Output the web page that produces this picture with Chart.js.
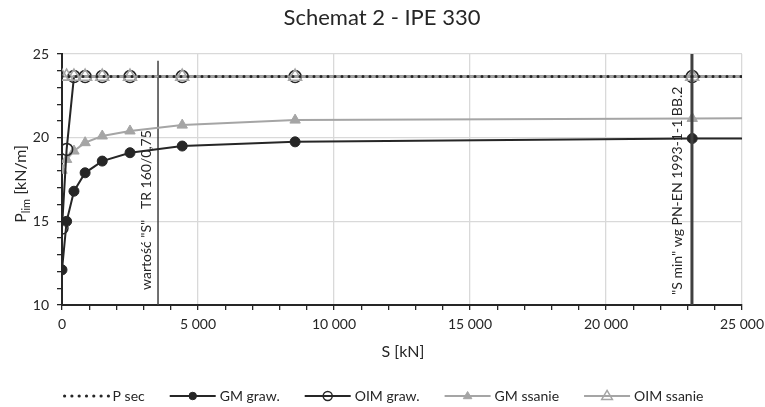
<!DOCTYPE html>
<html>
<head>
<meta charset="utf-8">
<script src="https://cdn.jsdelivr.net/npm/chart.js@4/dist/chart.umd.min.js"></script>
<style>
  html, body { margin: 0; padding: 0; background: #fff; }
  #wrap { width: 765px; height: 407px; }
</style>
</head>
<body>
<div id="wrap"><canvas id="chart" width="765" height="407"></canvas></div>
<script>
// values
const sValues = [0, 170, 440, 850, 1480, 2500, 4420, 8570, 23170, 40000];
const gmGraw = [12.1, 15.0, 16.8, 17.9, 18.6, 19.1, 19.5, 19.75, 19.95, 20.0];
const oimGraw = [14.6, 19.3, 23.65, 23.65, 23.65, 23.65, 23.65, 23.65, 23.65, 23.65];
const gmSsanie = [18.05, 18.7, 19.2, 19.7, 20.1, 20.4, 20.75, 21.05, 21.15, 21.25];
const oimSsanie = [23.65, 23.65, 23.65, 23.65, 23.65, 23.65, 23.65, 23.65, 23.65, 23.65];
const pSecS = [0, 25000];
const pSec = [23.65, 23.65];

const sTr = 3530;          // wartość "S" TR 160/0,75
const sTrRange = [10, 24.6];
const sMin = 23160;        // "S min" wg PN-EN 1993-1-1 BB.2
const sMinRange = [10, 25];

const xTicks = [0, 5000, 10000, 15000, 20000, 25000];
const yTicks = [10, 15, 20, 25];

const labels = ['P sec', 'GM graw.', 'OIM graw.', 'GM ssanie', 'OIM ssanie'];

const DARK = '#262626';
const GRAY = '#a5a5a5';
const FONT = 'Lato, "Open Sans", sans-serif';

const pts = (xs, ys) => xs.map((x, i) => ({ x: x, y: ys[i] }));
const fmt = v => String(v).replace(/\B(?=(\d{3})+(?!\d))/g, ' ');

function marker(ctx, style, x, y, r, fill, stroke, lw) {
  ctx.save();
  ctx.beginPath();
  if (style === 'triangle') {
    ctx.moveTo(x, y - r);
    ctx.lineTo(x + r * 0.95, y + r * 0.6);
    ctx.lineTo(x - r * 0.95, y + r * 0.6);
    ctx.closePath();
  } else {
    ctx.arc(x, y, r, 0, Math.PI * 2);
  }
  if (fill) { ctx.fillStyle = fill; ctx.fill(); }
  if (stroke) { ctx.strokeStyle = stroke; ctx.lineWidth = lw; ctx.stroke(); }
  ctx.restore();
}

const extras = {
  id: 'extras',
  afterDraw(chart) {
    const ctx = chart.ctx;
    const xs = chart.scales.x, ys = chart.scales.y;
    ctx.save();
    ctx.fillStyle = DARK;
    ctx.textBaseline = 'middle';

    // title
    ctx.textAlign = 'center';
    ctx.font = '22px ' + FONT;
    ctx.fillText('Schemat 2 - IPE 330', 382, 18);

    // x title
    ctx.font = '16px ' + FONT;
    ctx.fillText('S [kN]', 403, 352);

    // y title with subscript
    ctx.save();
    ctx.translate(20, 184);
    ctx.rotate(-Math.PI / 2);
    ctx.textAlign = 'left';
    ctx.textBaseline = 'alphabetic';
    const big = '16px ' + FONT, small = '11px ' + FONT;
    ctx.font = big; const wP = ctx.measureText('P').width;
    ctx.font = small; const wL = ctx.measureText('lim').width;
    ctx.font = big; const wR = ctx.measureText(' [kN/m]').width;
    let tx = -(wP + wL + wR) / 2;
    ctx.font = big; ctx.fillText('P', tx, 6); tx += wP;
    ctx.font = small; ctx.fillText('lim', tx, 10); tx += wL;
    ctx.font = big; ctx.fillText(' [kN/m]', tx, 6);
    ctx.restore();

    // reference line texts
    ctx.font = '14px ' + FONT;
    ctx.textAlign = 'left';
    ctx.textBaseline = 'alphabetic';
    ctx.save();
    ctx.translate(xs.getPixelForValue(sTr) - 7, ys.getPixelForValue(10.9));
    ctx.rotate(-Math.PI / 2);
    ctx.fillText('wartość "S"   TR 160/0,75', 0, 0);
    ctx.restore();
    ctx.save();
    ctx.translate(xs.getPixelForValue(sMin) - 10, ys.getPixelForValue(10.6));
    ctx.rotate(-Math.PI / 2);
    ctx.fillText('"S min" wg PN-EN 1993-1-1 BB.2', 0, 0);
    ctx.restore();

    // legend
    ctx.font = '14px ' + FONT;
    ctx.textBaseline = 'middle';
    const sets = chart.data.datasets.slice(0, 5);
    const lineLen = 46, gapText = 4, gapItem = 25;
    let total = 0;
    sets.forEach(d => { total += lineLen + gapText + ctx.measureText(d.label).width + gapItem; });
    total -= gapItem;
    let lx = 383 - total / 2;
    const ly = 396;
    sets.forEach(d => {
      ctx.save();
      if (d.label === 'P sec') {
        for (let k = 0; k < 7; k++) marker(ctx, 'circle', lx + 2 + k * 7.3, ly, 1.6, DARK);
      } else {
        ctx.strokeStyle = d.borderColor;
        ctx.lineWidth = d.borderWidth;
        ctx.beginPath();
        ctx.moveTo(lx, ly);
        ctx.lineTo(lx + lineLen, ly);
        ctx.stroke();
        const r = d.pointRadius * 0.75;
        marker(ctx, d.pointStyle, lx + lineLen / 2, ly, r,
          d.pointBackgroundColor === 'transparent' ? null : d.pointBackgroundColor,
          d.pointBorderColor, d.pointBorderWidth);
      }
      ctx.restore();
      ctx.fillStyle = DARK;
      ctx.textAlign = 'left';
      ctx.fillText(d.label, lx + lineLen + gapText, ly);
      lx += lineLen + gapText + ctx.measureText(d.label).width + gapItem;
    });
    ctx.restore();
  }
};

new Chart(document.getElementById('chart'), {
  type: 'line',
  data: {
    datasets: [
      {
        label: labels[0],
        data: pts(pSecS, pSec),
        borderColor: DARK,
        borderWidth: 3,
        borderDash: [0, 7],
        borderCapStyle: 'round',
        pointRadius: 0,
        order: 0
      },
      {
        label: labels[1],
        data: pts(sValues, gmGraw),
        borderColor: DARK,
        borderWidth: 2,
        pointStyle: 'circle',
        pointRadius: 5,
        pointBackgroundColor: DARK,
        pointBorderColor: DARK,
        pointBorderWidth: 1,
        order: 3
      },
      {
        label: labels[2],
        data: pts(sValues, oimGraw),
        borderColor: DARK,
        borderWidth: 2,
        pointStyle: 'circle',
        pointRadius: 6,
        pointBackgroundColor: 'transparent',
        pointBorderColor: DARK,
        pointBorderWidth: 1.5,
        order: 4
      },
      {
        label: labels[3],
        data: pts(sValues, gmSsanie),
        borderColor: GRAY,
        borderWidth: 2,
        pointStyle: 'triangle',
        pointRadius: 6,
        pointBackgroundColor: GRAY,
        pointBorderColor: GRAY,
        pointBorderWidth: 1,
        order: 5
      },
      {
        label: labels[4],
        data: pts(sValues, oimSsanie),
        borderColor: GRAY,
        borderWidth: 2,
        pointStyle: 'triangle',
        pointRadius: 7.5,
        pointBackgroundColor: 'transparent',
        pointBorderColor: GRAY,
        pointBorderWidth: 1.5,
        order: 2
      },
      {
        label: 'TR',
        data: pts([sTr, sTr], sTrRange),
        borderColor: '#404040',
        borderWidth: 1.5,
        pointRadius: 0,
        order: 6
      },
      {
        label: 'Smin',
        data: pts([sMin, sMin], sMinRange),
        borderColor: '#404040',
        borderWidth: 3,
        pointRadius: 0,
        order: 1
      }
    ]
  },
  options: {
    responsive: false,
    animation: false,
    layout: { padding: { top: 54, right: 23, left: 0, bottom: 0 } },
    plugins: {
      legend: { display: false },
      tooltip: { enabled: false },
      title: { display: false }
    },
    scales: {
      x: {
        type: 'linear',
        min: 0,
        max: 25000,
        afterFit: s => { s.height = 102; s.paddingRight = 0; s.paddingLeft = 0; },
        afterBuildTicks: s => { s.ticks = []; for (let v = 0; v <= 25000; v += 1000) s.ticks.push({ value: v }); },
        ticks: {
          autoSkip: false,
          maxRotation: 0,
          padding: 6,
          color: DARK,
          font: { family: FONT, size: 14 },
          callback: v => xTicks.includes(v) ? fmt(v) : ''
        },
        grid: {
          color: c => (c.tick && xTicks.includes(c.tick.value) && c.tick.value > 0) ? '#d9d9d9' : 'transparent',
          tickColor: DARK,
          tickLength: 5,
          lineWidth: 1.3
        },
        border: { color: DARK, width: 2 }
      },
      y: {
        min: 10,
        max: 25,
        afterFit: s => { s.width = 62; s.paddingTop = 0; s.paddingBottom = 0; },
        afterBuildTicks: s => { s.ticks = []; for (let v = 10; v <= 25; v += 1) s.ticks.push({ value: v }); },
        ticks: {
          autoSkip: false,
          padding: 8,
          color: DARK,
          font: { family: FONT, size: 14 },
          callback: v => yTicks.includes(v) ? v : ''
        },
        grid: {
          color: c => (c.tick && yTicks.includes(c.tick.value) && c.tick.value > 10) ? '#d9d9d9' : 'transparent',
          tickColor: DARK,
          tickLength: 5,
          lineWidth: 1.3
        },
        border: { color: DARK, width: 2 }
      }
    }
  },
  plugins: [extras]
});
</script>
</body>
</html>
